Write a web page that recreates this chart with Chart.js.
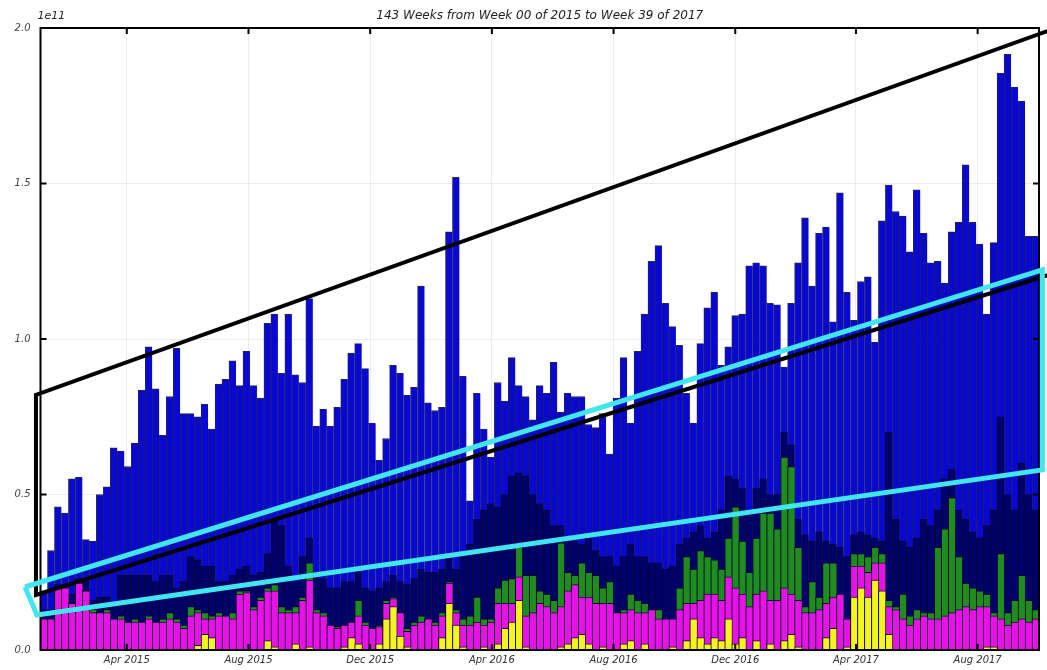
<!DOCTYPE html>
<html><head><meta charset="utf-8">
<script src="https://cdn.jsdelivr.net/npm/chart.js@4.4.0/dist/chart.umd.min.js"></script>
<style>html,body{margin:0;padding:0;background:#fff;}#wrap{width:1047px;height:670px;}</style>
</head><body><div id="wrap"><canvas id="c" width="1047" height="670"></canvas></div>
<script>
const titleText = '143 Weeks from Week 00 of 2015 to Week 39 of 2017';
const yExponentLabel = '1e11';
// x positions of month ticks, in weeks since 1 Jan 2015
const tickWeeks = [12.857, 30.286, 47.714, 65.143, 82.571, 100, 117.286, 134.714];
const tickLabels = ['Apr 2015', 'Aug 2015', 'Dec 2015', 'Apr 2016', 'Aug 2016', 'Dec 2016', 'Apr 2017', 'Aug 2017'];
const yTicks = [0, 0.5, 1.0, 1.5, 2.0];

// cumulative heights (units of 1e11) of each stacked layer
const blueTop = [0.19,0.32,0.46,0.44,0.55,0.555,0.355,0.35,0.5,0.525,0.65,0.64,0.59,0.665,0.835,0.975,0.84,0.69,0.815,0.97,
0.76,0.76,0.75,0.79,0.71,0.855,0.87,0.93,0.85,0.96,0.85,0.81,1.05,1.08,0.89,1.08,0.885,0.86,1.13,0.72,
0.775,0.72,0.78,0.87,0.955,0.985,0.905,0.73,0.61,0.68,0.915,0.89,0.82,0.845,1.17,0.795,0.77,0.78,1.345,1.52,
0.88,0.48,0.825,0.71,0.62,0.86,0.8,0.94,0.85,0.815,0.74,0.85,0.825,0.925,0.765,0.825,0.815,0.815,0.725,0.715,
0.76,0.63,0.81,0.94,0.73,0.96,1.08,1.25,1.3,1.115,1.04,0.98,0.825,0.73,0.985,1.1,1.15,0.915,0.975,1.075,
1.08,1.235,1.245,1.235,1.115,1.11,0.91,1.115,1.245,1.39,1.17,1.34,1.36,1.055,1.47,1.15,1.06,1.185,1.2,0.99,
1.38,1.495,1.41,1.395,1.28,1.48,1.34,1.245,1.25,1.18,1.345,1.375,1.56,1.375,1.305,1.08,1.31,1.855,1.915,1.81,
1.765,1.33,1.33];
const navyTop = [0.13,0.13,0.21,0.21,0.18,0.23,0.22,0.16,0.17,0.17,0.15,0.24,0.24,0.24,0.24,0.24,0.22,0.24,0.24,0.2,
0.22,0.3,0.29,0.27,0.27,0.22,0.22,0.24,0.26,0.27,0.24,0.25,0.31,0.42,0.4,0.27,0.22,0.3,0.36,0.25,
0.23,0.2,0.2,0.22,0.22,0.25,0.2,0.19,0.2,0.22,0.24,0.22,0.21,0.23,0.26,0.25,0.25,0.26,0.3,0.26,
0.3,0.34,0.42,0.45,0.47,0.46,0.5,0.56,0.57,0.56,0.5,0.47,0.45,0.4,0.4,0.36,0.35,0.34,0.36,0.32,
0.3,0.3,0.27,0.3,0.34,0.3,0.3,0.28,0.28,0.26,0.27,0.34,0.36,0.38,0.4,0.36,0.38,0.45,0.56,0.55,
0.52,0.45,0.52,0.55,0.5,0.5,0.7,0.66,0.42,0.37,0.35,0.38,0.35,0.34,0.33,0.3,0.37,0.38,0.37,0.36,
0.35,0.7,0.42,0.35,0.33,0.36,0.42,0.4,0.45,0.55,0.58,0.45,0.42,0.38,0.36,0.4,0.45,0.75,0.5,0.45,
0.6,0.5,0.45];
const greenTop = [0.1,0.1,0.2,0.2,0.15,0.215,0.19,0.13,0.12,0.13,0.1,0.11,0.09,0.1,0.09,0.11,0.09,0.1,0.12,0.1,
0.08,0.14,0.13,0.12,0.11,0.12,0.11,0.12,0.19,0.19,0.14,0.17,0.2,0.21,0.14,0.13,0.14,0.17,0.28,0.13,
0.12,0.08,0.075,0.08,0.09,0.16,0.09,0.07,0.08,0.16,0.17,0.12,0.07,0.09,0.11,0.1,0.09,0.12,0.22,0.13,
0.1,0.11,0.17,0.1,0.1,0.2,0.225,0.23,0.33,0.24,0.24,0.19,0.18,0.16,0.345,0.25,0.24,0.28,0.25,0.24,
0.2,0.22,0.12,0.13,0.18,0.16,0.15,0.13,0.13,0.1,0.1,0.2,0.3,0.26,0.32,0.3,0.29,0.26,0.36,0.46,
0.35,0.25,0.36,0.44,0.44,0.39,0.62,0.59,0.33,0.14,0.22,0.17,0.28,0.28,0.18,0.1,0.31,0.31,0.3,0.33,
0.31,0.16,0.14,0.18,0.11,0.13,0.12,0.12,0.33,0.39,0.49,0.3,0.215,0.2,0.19,0.18,0.12,0.31,0.12,0.16,
0.24,0.16,0.13];
const magentaTop = [0.1,0.1,0.2,0.2,0.15,0.215,0.19,0.12,0.12,0.12,0.1,0.1,0.09,0.09,0.09,0.1,0.09,0.09,0.1,0.09,
0.07,0.11,0.12,0.1,0.1,0.11,0.11,0.1,0.18,0.185,0.13,0.16,0.19,0.19,0.12,0.12,0.12,0.16,0.225,0.12,
0.11,0.08,0.07,0.08,0.09,0.11,0.08,0.07,0.075,0.15,0.165,0.12,0.06,0.08,0.09,0.1,0.08,0.11,0.215,0.12,
0.08,0.08,0.09,0.08,0.09,0.15,0.15,0.15,0.235,0.11,0.12,0.15,0.14,0.12,0.14,0.19,0.21,0.17,0.17,0.15,
0.15,0.15,0.12,0.12,0.13,0.12,0.12,0.13,0.1,0.1,0.1,0.13,0.15,0.15,0.16,0.18,0.18,0.16,0.235,0.2,
0.18,0.14,0.18,0.19,0.16,0.16,0.2,0.18,0.16,0.12,0.12,0.13,0.15,0.17,0.18,0.1,0.27,0.27,0.25,0.28,
0.28,0.14,0.13,0.1,0.08,0.1,0.11,0.1,0.1,0.11,0.12,0.13,0.14,0.13,0.14,0.14,0.11,0.1,0.08,0.09,
0.1,0.09,0.1];
const yellowTop = [0,0,0,0,0,0,0,0,0,0,0,0,0,0,0,0,0,0,0,0,
0,0,0.015,0.05,0.04,0,0,0,0,0,0,0,0.03,0.01,0,0,0.02,0,0.01,0,
0,0,0,0.01,0.04,0.02,0,0,0.02,0.1,0.14,0.045,0.01,0,0,0,0,0.04,0.15,0.08,
0.01,0,0,0.01,0,0.02,0.07,0.09,0.16,0.01,0,0,0,0,0.01,0.02,0.04,0.05,0.02,0,
0.01,0,0,0.02,0.03,0,0.02,0,0,0,0.01,0,0.03,0.1,0.04,0.02,0.04,0.03,0.1,0.02,
0.04,0,0.03,0,0.02,0,0.03,0.05,0.01,0,0,0,0.04,0.07,0,0.01,0.17,0.2,0.17,0.225,
0.19,0.05,0,0,0,0,0,0,0,0,0,0,0,0,0,0.01,0.01,0,0,0,
0,0,0];

// overlay outlines (x in weeks since 1 Jan 2015, y in 1e11)
const blackX = [144.7, -0.15, -0.15, 144.7];
const blackY = [1.99, 0.82, 0.177, 1.205];
const cyanX = [-1.72, 143.98, 143.98, 0.0, -1.72];
const cyanY = [0.2026, 1.222, 0.579, 0.1125, 0.2026];

const weekPos = blueTop.map((_, i) => i + 1);
const toPts = arr => arr.map((v, i) => ({x: weekPos[i], y: v}));
const edge = 'rgba(0,0,35,0.85)';
const barDs = (label, arr, color, order) => ({
  type: 'bar', label, data: toPts(arr), backgroundColor: color, borderColor: edge,
  borderWidth: {top: 1, left: 1, right: 0, bottom: 0}, borderSkipped: false,
  grouped: false, barPercentage: 1, categoryPercentage: 1, order
});
const lineDs = (label, xs, ys, color, w, order, extra) => Object.assign({
  type: 'line', label, data: xs.map((x, i) => ({x, y: ys[i]})), borderColor: color,
  borderWidth: w, pointRadius: 0, fill: false, clip: false, tension: 0,
  borderJoinStyle: 'miter', order
}, extra || {});

const FRAME = {left: 40.5, top: 28, right: 1039, bottom: 650};

const framePlugin = {
  id: 'frame',
  beforeDatasetDraw(chart, args) {
    const ds = chart.data.datasets[args.index];
    if (!ds.isBlackOutline) return;
    const ctx = chart.ctx, a = chart.chartArea, xs = chart.scales.x, ys = chart.scales.y;
    ctx.save();
    ctx.strokeStyle = '#000';
    ctx.lineWidth = 2;
    ctx.strokeRect(a.left, a.top, a.right - a.left, a.bottom - a.top);
    ctx.beginPath();
    yTicks.forEach(v => {
      const y = ys.getPixelForValue(v);
      ctx.moveTo(a.left, y); ctx.lineTo(a.left + 6, y);
      ctx.moveTo(a.right, y); ctx.lineTo(a.right - 6, y);
    });
    tickWeeks.forEach(v => {
      const x = xs.getPixelForValue(v);
      ctx.moveTo(x, a.top); ctx.lineTo(x, a.top + 6);
      ctx.moveTo(x, a.bottom); ctx.lineTo(x, a.bottom - 6);
    });
    ctx.stroke();
    ctx.restore();
  },
  afterDraw(chart) {
    const ctx = chart.ctx, a = chart.chartArea;
    ctx.save();
    ctx.fillStyle = '#222';
    ctx.font = 'italic 12px "DejaVu Sans"';
    ctx.textAlign = 'center';
    ctx.textBaseline = 'middle';
    ctx.fillText(titleText, (a.left + a.right) / 2, 16);
    ctx.font = 'italic 11px "DejaVu Sans"';
    ctx.textAlign = 'left';
    ctx.fillText(yExponentLabel, a.left - 3, 16);
    ctx.restore();
  }
};

new Chart(document.getElementById('c'), {
  data: {
    datasets: [
      lineDs('cyan outline', cyanX, cyanY, '#40e6f0', 5, 0),
      lineDs('black outline', blackX, blackY, '#000000', 4, 1, {isBlackOutline: true}),
      barDs('yellow', yellowTop, '#f5f51e', 2),
      barDs('magenta', magentaTop, '#e812e8', 3),
      barDs('green', greenTop, '#1f8c1f', 4),
      barDs('navy', navyTop, '#00006a', 5),
      barDs('blue', blueTop, '#0808d2', 6)
    ]
  },
  options: {
    responsive: false, animation: false, devicePixelRatio: 1,
    layout: {padding: {left: 0, right: 1047 - FRAME.right, top: FRAME.top, bottom: 0}},
    plugins: {legend: {display: false}, tooltip: {enabled: false}},
    scales: {
      x: {
        type: 'linear', min: 0.5, max: 143.5, offset: false,
        afterBuildTicks: s => { s.ticks = tickWeeks.map(v => ({value: v})); },
        afterFit: s => { s.height = 670 - FRAME.bottom; },
        ticks: {autoSkip: false, maxRotation: 0, minRotation: 0, padding: 4, color: '#333',
          font: {family: 'DejaVu Sans', size: 10, style: 'italic'},
          callback: (v, i) => tickLabels[i]},
        grid: {color: '#ececec', lineWidth: 1, drawTicks: false, offset: false},
        border: {display: false}
      },
      y: {
        type: 'linear', min: 0, max: 2,
        afterBuildTicks: s => { s.ticks = yTicks.map(v => ({value: v})); },
        afterFit: s => { s.width = FRAME.left; },
        ticks: {padding: 10, color: '#444',
          font: {family: 'DejaVu Sans', size: 10, style: 'italic'},
          callback: v => Number(v).toFixed(1)},
        grid: {color: '#ececec', lineWidth: 1, drawTicks: false},
        border: {display: false}
      }
    }
  },
  plugins: [framePlugin]
});
</script></body></html>
